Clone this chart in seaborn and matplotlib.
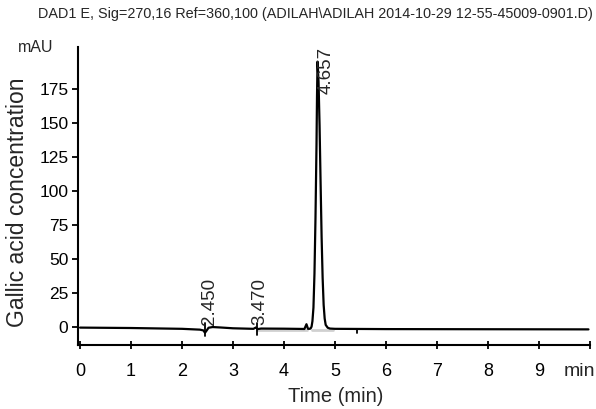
import matplotlib
matplotlib.use("Agg")
import matplotlib.pyplot as plt
import seaborn as sns
import pandas as pd

# Chromatogram trace (retention time in min, absorbance in mAU)
time_min = [0.00, 1.00, 2.00, 2.35, 2.42, 2.45, 2.48, 2.52, 2.60, 2.75, 3.00,
            3.40, 3.45, 3.48, 3.55, 4.00, 4.40, 4.44, 4.47, 4.50, 4.52,
            4.54, 4.557, 4.577, 4.597, 4.617, 4.637, 4.647, 4.657, 4.667, 4.677,
            4.697, 4.717, 4.737, 4.757, 4.777, 4.797, 4.817, 4.857, 4.90, 5.00,
            6.00, 8.00, 9.97]
absorbance = [-0.7, -1.0, -1.6, -2.2, -2.8, -4.5, -3.0, -0.8, -0.3, -0.6, -1.2,
              -1.6, -0.6, -1.8, -1.4, -1.5, -1.7, 1.8, -1.6, -1.6, -1.4,
              0.0, 4.0, 14.0, 39.0, 80.0, 134.0, 170.0, 195.0, 188.0, 180.0,
              148.0, 106.0, 66.0, 36.0, 16.0, 6.0, 1.3, -0.8, -1.4, -1.6,
              -1.8, -1.9, -2.0]

# Integrated peaks: retention times and their labels
peak_rt = [2.450, 3.470, 4.657]
peak_labels = ["2.450", "3.470", "4.657"]

x_ticks = [0, 1, 2, 3, 4, 5, 6, 7, 8, 9, 10]
x_tick_labels = ["0", "1", "2", "3", "4", "5", "6", "7", "8", "9", ""]
y_ticks = [0, 25, 50, 75, 100, 125, 150, 175]

df = pd.DataFrame({"time": time_min, "mAU": absorbance})

sns.set_style("ticks")
plt.rcParams["font.family"] = ["Liberation Sans", "DejaVu Sans"]

fig = plt.figure(figsize=(5.96, 4.09), dpi=100)
W, H = 596, 409
ax = fig.add_axes([78 / W, 1 - 345 / H, (590 - 78) / W, (345 - 46.7) / H])

# integration baselines (light grey) under the trace
ax.plot([3.47, 4.45], [-2.3, -2.3], color="#d0d0d0", lw=2, zorder=1)
ax.plot([4.55, 4.97], [-2.4, -2.4], color="#d0d0d0", lw=2, zorder=1)

sns.lineplot(data=df, x="time", y="mAU", color="black", lw=1.6,
             sort=False, estimator=None, ax=ax, zorder=3)

# peak start / end markers
ax.plot([2.45, 2.45], [2.7, -6.9], color="black", lw=1.3, zorder=3)
ax.plot([3.47, 3.47], [2.7, -6.1], color="black", lw=1.3, zorder=3)
ax.plot([5.43, 5.43], [-1.7, -4.6], color="black", lw=1.3, zorder=3)

# retention-time labels
ax.text(peak_rt[0] + 0.08, 1.0, peak_labels[0], rotation=90, ha="center",
        va="bottom", fontsize=13.5)
ax.text(peak_rt[1] + 0.05, 1.0, peak_labels[1], rotation=90, ha="center",
        va="bottom", fontsize=13.5)
ax.text(peak_rt[2] + 0.165, 206, peak_labels[2], rotation=90, ha="center",
        va="top", fontsize=13.5)

ax.set_xlim(-0.04, 10.0)
ax.set_ylim(-13.5, 206)
ax.set_xticks(x_ticks)
ax.set_xticklabels(x_tick_labels)
ax.set_yticks(y_ticks)
ax.set_xlabel("")
ax.set_ylabel("")
ax.tick_params(axis="x", direction="inout", length=6, width=1.3,
               labelsize=13, pad=10, colors="black")
ax.tick_params(axis="y", direction="out", length=4, width=1.3,
               labelsize=12.5, pad=3, colors="black")
for side in ("top", "right"):
    ax.spines[side].set_visible(False)
for side in ("left", "bottom"):
    ax.spines[side].set_linewidth(1.5)
    ax.spines[side].set_color("black")

fig.text(579 / W, 1 - 371 / H, "min", ha="center", va="center", fontsize=14)
fig.text(336 / W, 1 - 397 / H, "Time (min)", ha="center", va="center",
         fontsize=14.5)
fig.text(18 / W, 1 - 202 / H, "Gallic acid concentration", rotation=90,
         ha="center", va="center", fontsize=16.5)
fig.text(36 / W, 1 - 47 / H, "mAU", ha="center", va="center", fontsize=11.5)
fig.text(315 / W, 1 - 14 / H,
         "DAD1 E, Sig=270,16 Ref=360,100 (ADILAH\\ADILAH 2014-10-29 12-55-45009-0901.D)",
         ha="center", va="center", fontsize=10.4)

fig.savefig("out.png", dpi=100)
